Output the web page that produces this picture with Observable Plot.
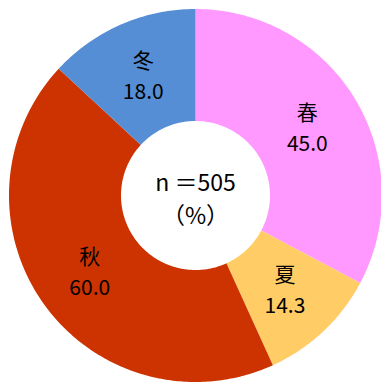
<!DOCTYPE html>
<html><head><meta charset="utf-8">
<script src="https://cdn.jsdelivr.net/npm/d3@7"></script>
<script src="https://cdn.jsdelivr.net/npm/@observablehq/plot@0.6"></script>
<style>
html,body{margin:0;padding:0;background:#fff;}
</style>
</head><body>
<div id="chart"></div>
<script>
const categories = ["春", "夏", "秋", "冬"];
const values = [45.0, 14.3, 60.0, 18.0];
const valueLabels = ["45.0", "14.3", "60.0", "18.0"];
const colors = ["#FF99FF", "#FFCC66", "#CC3300", "#558ED5"];
const centerLines = ["n ＝505", "（%）"];

const R = 186.5, r0 = 74.5;
const pie = d3.pie().sort(null).startAngle(0).endAngle(2 * Math.PI)(values);

const polys = [];
const labels = [];
pie.forEach((p, i) => {
  const n = Math.max(8, Math.ceil((p.endAngle - p.startAngle) * 80));
  for (let k = 0; k <= n; k++) {
    const a = p.startAngle + (p.endAngle - p.startAngle) * k / n;
    polys.push({cat: categories[i], x: R * Math.sin(a), y: R * Math.cos(a)});
  }
  for (let k = n; k >= 0; k--) {
    const a = p.startAngle + (p.endAngle - p.startAngle) * k / n;
    polys.push({cat: categories[i], x: r0 * Math.sin(a), y: r0 * Math.cos(a)});
  }
  const m = (p.startAngle + p.endAngle) / 2;
  const rl = (R + r0) / 2;
  labels.push({cat: categories[i], val: valueLabels[i], x: rl * Math.sin(m), y: rl * Math.cos(m)});
});

const font = "'Noto Sans CJK JP', 'Noto Sans', sans-serif";
const chart = Plot.plot({
  width: 381,
  height: 382,
  margin: 0,
  x: {domain: [-195, 186], axis: null},
  y: {domain: [-187, 195], axis: null},
  color: {domain: categories, range: colors},
  style: {fontFamily: font, background: "#fff"},
  marks: [
    Plot.line(polys, {x: "x", y: "y", z: "cat", fill: "cat", stroke: "none", curve: "linear-closed"}),
    Plot.text(labels, {x: "x", y: "y", text: "cat", dy: -15, fontSize: 21, fill: "#000"}),
    Plot.text(labels, {x: "x", y: "y", text: "val", dy: 16, fontSize: 21, fill: "#000"}),
    Plot.text([centerLines[0]], {x: 0, y: 0, text: d => d, dy: -12, fontSize: 23, fill: "#000"}),
    Plot.text([centerLines[1]], {x: 0, y: 0, text: d => d, dy: 21, fontSize: 23, fill: "#000"})
  ]
});
document.getElementById("chart").append(chart);
</script>
</body></html>
